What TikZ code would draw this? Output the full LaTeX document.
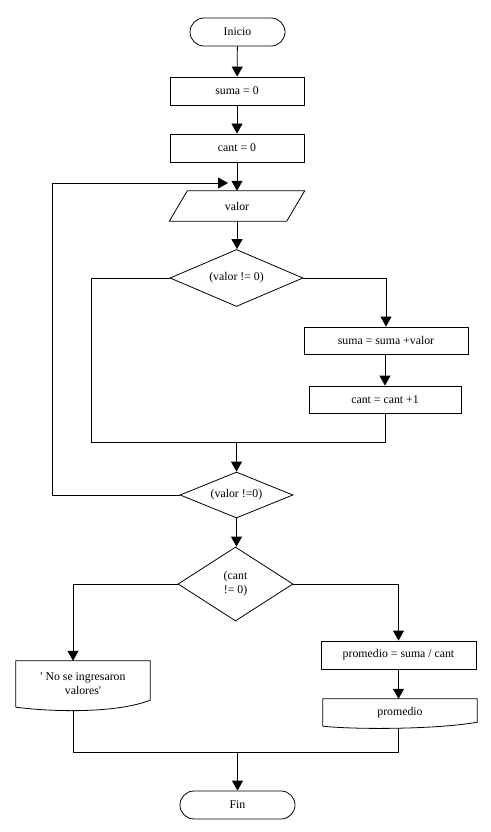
\documentclass[tikz,border=0pt]{standalone}
\usepackage{fontspec}
\setmainfont{Liberation Serif}[Ligatures=TeXOff]
\usetikzlibrary{shapes.geometric,arrows.meta,calc}
\begin{document}
\begin{tikzpicture}[x=1pt,y=-1pt,
  every node/.style={font=\fontsize{11.8}{14}\selectfont, inner sep=0pt},
  line/.style={line width=0.8pt},
  arr/.style={line, -{Triangle[width=11pt,length=10pt]}},
  term/.style={draw, line width=0.8pt, rounded corners=14pt, minimum height=28pt},
  proc/.style={draw, line width=0.8pt, minimum height=28pt},
  dec/.style={draw, line width=0.8pt, diamond, align=center},
  ghost/.style={align=center}]
\useasboundingbox[fill=white] (0,0) rectangle (490,832);

\node[term, minimum width=95pt] (ini) at (237.5,32) {Inicio};
\node[proc, minimum width=134pt] (s0) at (237,91) {suma = 0};
\node[proc, minimum width=134pt] (c0) at (237,148) {cant = 0};
\node[ghost, minimum width=135pt, minimum height=30pt] (val) at (237,206) {valor};
\draw[line] (val.south west) -- ([xshift=18pt]val.north west) -- (val.north east) -- ([xshift=-18pt]val.south east) -- cycle;

\node[dec, minimum width=133pt, minimum height=57pt, aspect=2.33] (d1) at (236.5,278) {(valor != 0)};
\node[proc, minimum width=164pt, minimum height=27pt] (b1) at (386,340.5) {suma = suma +valor};
\node[proc, minimum width=152pt, minimum height=27pt] (b2) at (385,399.5) {cant = cant +1};
\node[dec, minimum width=113pt, minimum height=46pt, aspect=2.45] (d2) at (236.5,495) {(valor !=0)};
\node[dec, minimum width=115pt, minimum height=74pt, aspect=1.55] (d3) at (235.5,584) {(cant\\ != 0)};
\node[proc, minimum width=155pt] (prom) at (398.5,655) {promedio = suma / cant};

\node[ghost, minimum width=134pt, minimum height=46pt] (doc1) at (83,684) {' No se ingresaron\\valores'};
\draw[line] (doc1.south west) -- (doc1.north west) -- (doc1.north east) -- ([yshift=7pt]doc1.south east)
  .. controls (120,712) and (62,713) .. (doc1.south west);
\node[ghost, minimum width=154pt, minimum height=27pt] (doc2) at (400,712.5) {promedio};
\draw[line] (doc2.south west) -- (doc2.north west) -- (doc2.north east) -- ([yshift=4pt]doc2.south east)
  .. controls (440,729) and (360,730) .. (doc2.south west);

\node[term, minimum width=115pt] (fin) at (237.5,805) {Fin};

% coordinates
\coordinate (lb) at (52,495);
\coordinate (lt) at (52,183);
\coordinate (le) at (228,183);
\coordinate (l1) at (91,278);
\coordinate (j1) at (236.5,442);
\coordinate (l3) at (73,584);
\coordinate (m) at (237.5,752);

% connectors
\draw[arr] (ini) -- (s0);
\draw[arr] (s0) -- (c0);
\draw[arr] (c0.south) -- (c0.south |- val.north);
\draw[arr] (val.south) -- (val.south |- d1.north);
\draw[arr] (d1.east) -| (b1.north);
\draw[arr] (b1.south -| b2.north) -- (b2.north);
\draw[line] (d1.west) -- (l1) -- (l1 |- j1) -- (b2.south |- j1) -- (b2.south);
\draw[arr] (j1) -- (d2.north);
\draw[arr] (d2.west) -- (lb) -- (lt) -- (le);
\draw[arr] (d2.south) -- (d2.south |- d3.north);
\draw[arr] (d3.west) -- (l3) -- (l3 |- doc1.north);
\draw[arr] (d3.east) -| (prom.north);
\draw[arr] (prom.south) -- (prom.south |- doc2.north);
\draw[line] ($(l3 |- doc1.south)+(0,3)$) -- (l3 |- m) -- (prom.south |- m) -- ($(prom.south |- doc2.south)+(0,2)$);
\draw[arr] (m) -- (fin);
\end{tikzpicture}
\end{document}
